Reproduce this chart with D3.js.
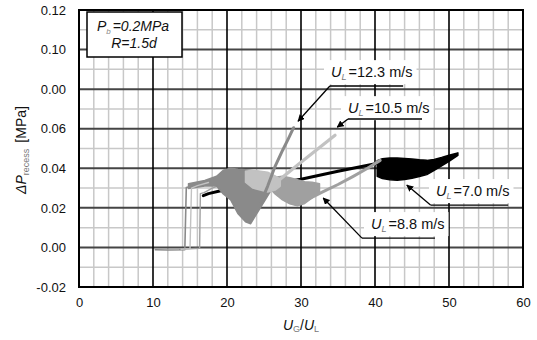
<!DOCTYPE html>
<html><head><meta charset="utf-8">
<script src="https://cdn.jsdelivr.net/npm/d3@7"></script>
<style>body{margin:0;background:#fff;} svg{display:block;font-family:"Liberation Sans",Arial,sans-serif;}</style>
</head><body><svg id="c" width="537" height="340"></svg>
<script>
// ---- tick labels (as printed in the reference) ----
const xTicks = [0, 10, 20, 30, 40, 50, 60];
const xTickLabels = ["0", "10", "20", "30", "40", "50", "60"];
const yTicks = [-0.02, 0, 0.02, 0.04, 0.06, 0.08, 0.10, 0.12];
const yTickLabels = ["-0.02", "0.00", "0.02", "0.04", "0.06", "0.00", "0.10", "0.12"];

// ---- series labels ----
const seriesNames = ["U_L=7.0 m/s", "U_L=8.8 m/s", "U_L=10.5 m/s", "U_L=12.3 m/s"];
const seriesValues = ["7.0", "8.8", "10.5", "12.3"];

// ---- U_L = 7.0 m/s (black) : trace [x, dP] and noisy envelope [x, low, high] ----
const s70Line = [[16.8,0.0262],[17.5,0.0272],[19,0.0285],[22,0.0300],[26.5,0.0322],[30,0.0345],[35,0.0385],[40.4,0.0425]];
const s70Band = [[40.3,0.0360,0.0438],[41,0.0348,0.0448],[42,0.0342,0.0452],[43,0.0340,0.0452],[44,0.0343,0.0450],[45,0.0350,0.0447],[46,0.0358,0.0443],[47,0.0368,0.0440],[48,0.0390,0.0445],[49,0.0412,0.0455],[50,0.0435,0.0466],[51.2,0.0465,0.0478]];

// ---- U_L = 8.8 m/s ----
const s88Line = [[13.6,-0.0010],[16.3,-0.0004],[16.4,0.0272],[16.9,0.0277],[18,0.0300],[19.5,0.0320]];
const s88Band = [[26.0,0.0290,0.0355],[26.5,0.0270,0.0355],[27.5,0.0240,0.0360],[28.5,0.0220,0.0352],[29.5,0.0210,0.0342],[30.5,0.0222,0.0332],[31.5,0.0250,0.0330],[32.5,0.0280,0.0322]];
const s88Rise = [[30.5,0.0235],[33,0.0282],[35,0.0318],[37,0.0358],[39,0.0400],[40.7,0.0440]];

// ---- U_L = 10.5 m/s ----
const s105Line = [[13.8,-0.0009],[15.0,-0.0006],[15.2,0.0300],[16,0.0312],[17.5,0.0328]];
const s105Band = [[22.5,0.0330,0.0385],[23.5,0.0300,0.0390],[24.5,0.0290,0.0385],[25.5,0.0280,0.0380],[26.5,0.0290,0.0362],[27.2,0.0310,0.0345]];
const s105Rise = [[26.2,0.0314],[28,0.0370],[30,0.0430],[32,0.0490],[34.6,0.0567]];

// ---- U_L = 12.3 m/s ----
const s123Line = [[10.3,-0.0012],[12,-0.0013],[14.3,-0.0012],[14.5,0.0303],[15.5,0.0312],[17,0.0322],[18.6,0.0335],[20,0.0350]];
const s123Band = [[14.8,0.0298,0.0322],[17,0.0310,0.0338],[18.6,0.0310,0.0360],[19.5,0.0270,0.0390],[20.5,0.0240,0.0400],[21.5,0.0170,0.0395],[22.5,0.0130,0.0392],[23.2,0.0120,0.0390],[24,0.0170,0.0385],[25,0.0230,0.0380],[25.8,0.0280,0.0370]];
const s123Rise = [[24.6,0.0230],[25.5,0.0310],[26.5,0.0410],[27.5,0.0490],[28.3,0.0550],[29,0.0605]];

const svg = d3.select("#c");
const W = 537, H = 340;
const L = 79, R = 523, T = 10, B = 287;
const x = d3.scaleLinear().domain([0, 60]).range([L, R]);
const y = d3.scaleLinear().domain([-0.02, 0.12]).range([B, T]);

svg.append("rect").attr("width", W).attr("height", H).attr("fill", "#fff");

// grid
const g = svg.append("g");
const minorX = d3.range(2, 60, 2).filter(v => v % 10 !== 0);
const minorY = d3.range(-0.01, 0.12, 0.02);
g.selectAll(".mx").data(minorX).enter().append("line")
  .attr("x1", d => x(d)).attr("x2", d => x(d)).attr("y1", T).attr("y2", B)
  .attr("stroke", "#c8c8c8").attr("stroke-width", 1.5);
g.selectAll(".my").data(minorY).enter().append("line")
  .attr("x1", L).attr("x2", R).attr("y1", d => y(d)).attr("y2", d => y(d))
  .attr("stroke", "#c8c8c8").attr("stroke-width", 1.5);
g.selectAll(".My").data(yTicks.slice(1, -1)).enter().append("line")
  .attr("x1", L).attr("x2", R).attr("y1", d => y(d)).attr("y2", d => y(d))
  .attr("stroke", "#454545").attr("stroke-width", 2);
g.selectAll(".Mx").data(xTicks.slice(1, -1)).enter().append("line")
  .attr("x1", d => x(d)).attr("x2", d => x(d)).attr("y1", T).attr("y2", B)
  .attr("stroke", "#000").attr("stroke-width", 1.6);

// data
const line = d3.line().x(d => x(d[0])).y(d => y(d[1]));
const area = d3.area().x(d => x(d[0])).y0(d => y(d[1])).y1(d => y(d[2]));
const D = svg.append("g").attr("stroke-linejoin", "round").attr("stroke-linecap", "round");
function band(data, col) {
  D.append("path").datum(data).attr("d", area).attr("fill", col).attr("stroke", col).attr("stroke-width", 1.5);
}
function trace(data, col, w) {
  D.append("path").datum(data).attr("d", line).attr("fill", "none").attr("stroke", col).attr("stroke-width", w);
}
const c70 = "#000", c88 = "#a0a0a0", c105 = "#c2c2c2", c123 = "#8a8a8a";
// 7.0
trace(s70Line, c70, 3);
band(s70Band, c70);
// 8.8
trace(s88Line, c88, 1.4);
band(s88Band, c88);
trace(s88Rise, c88, 3);
// 12.3 low/noisy part
trace(s123Line, c123, 1.6);
band(s123Band, c123);
// 10.5
trace(s105Line, c105, 1.4);
band(s105Band, c105);
trace(s105Rise, c105, 3.2);
// 12.3 rise
trace(s123Rise, c123, 3);

// border
svg.append("rect").attr("x", L).attr("y", T).attr("width", R - L).attr("height", B - T)
  .attr("fill", "none").attr("stroke", "#000").attr("stroke-width", 2);

// axes (labels only)
const ax = svg.append("g").attr("transform", `translate(0,${B})`)
  .call(d3.axisBottom(x).tickValues(xTicks).tickFormat((d, i) => xTickLabels[i]).tickSize(0).tickPadding(11));
const ay = svg.append("g").attr("transform", `translate(${L},0)`)
  .call(d3.axisLeft(y).tickValues(yTicks).tickFormat((d, i) => yTickLabels[i]).tickSize(0).tickPadding(13));
[ax, ay].forEach(a => {
  a.select(".domain").remove();
  a.selectAll("text").attr("font-size", 13).attr("fill", "#111")
    .attr("font-family", '"Liberation Sans",Arial,sans-serif');
});

// axis titles
const xt = svg.append("text").attr("x", 301).attr("y", 330).attr("text-anchor", "middle")
  .attr("font-size", 14).attr("fill", "#111");
xt.append("tspan").attr("font-style", "italic").text("U");
xt.append("tspan").attr("font-size", 9).attr("dy", 2).attr("fill", "#777").text("G");
xt.append("tspan").attr("dy", -2).text("/");
xt.append("tspan").attr("font-style", "italic").text("U");
xt.append("tspan").attr("font-size", 9).attr("dy", 2).attr("fill", "#777").text("L");

const yt = svg.append("text").attr("transform", "translate(26,150) rotate(-90)")
  .attr("text-anchor", "middle").attr("font-size", 14).attr("fill", "#111");
yt.append("tspan").attr("font-style", "italic").text("\u0394P");
yt.append("tspan").attr("font-size", 9).attr("dy", 3).attr("fill", "#777").text("recess");
yt.append("tspan").attr("dy", -3).attr("dx", 6).text("[MPa]");

// legend box
svg.append("rect").attr("x", 87).attr("y", 12).attr("width", 95).attr("height", 45)
  .attr("fill", "#fff").attr("stroke", "#000").attr("stroke-width", 1.5);
const lt1 = svg.append("text").attr("x", 133).attr("y", 31).attr("text-anchor", "middle")
  .attr("font-size", 14).attr("font-style", "italic").attr("fill", "#111");
lt1.append("tspan").text("P");
lt1.append("tspan").attr("font-size", 8).attr("dy", 3).attr("fill", "#888").text("b");
lt1.append("tspan").attr("dy", -3).attr("dx", 2).text("=0.2MPa");
svg.append("text").attr("x", 134).attr("y", 48).attr("text-anchor", "middle")
  .attr("font-size", 14).attr("font-style", "italic").attr("fill", "#111").text("R=1.5d");

// annotations
svg.append("defs").append("marker").attr("id", "ah").attr("viewBox", "0 0 10 10")
  .attr("refX", 9).attr("refY", 5).attr("markerWidth", 7).attr("markerHeight", 7)
  .attr("markerUnits", "userSpaceOnUse").attr("orient", "auto")
  .append("path").attr("d", "M0,0 L10,5 L0,10 z").attr("fill", "#000");

const annos = [
  {v: seriesValues[3], tx: 34.05, ty: 0.0886, u0: 33.9, u1: 43.8, uy: 0.0816, ax: 29.6, ay: 0.0638},
  {v: seriesValues[2], tx: 36.35, ty: 0.0704, u0: 36.35, u1: 46.35, uy: 0.0649, ax: 34.9, ay: 0.0608},
  {v: seriesValues[0], tx: 48.24, ty: 0.0285, u0: 47.5, u1: 58.0, uy: 0.0214, ax: 44.3, ay: 0.0315},
  {v: seriesValues[1], tx: 39.46, ty: 0.0118, u0: 38.24, u1: 48.1, uy: 0.0047, ax: 33.0, ay: 0.0250}
];
annos.forEach(a => {
  const grp = svg.append("g");
  const bg = grp.append("rect").attr("fill", "#fff");
  const t = grp.append("text").attr("x", x(a.tx)).attr("y", y(a.ty) + 5)
    .attr("font-size", 14.5).attr("fill", "#111");
  t.append("tspan").attr("font-style", "italic").text("U");
  t.append("tspan").attr("font-style", "italic").attr("font-size", 9).attr("dy", 3).attr("fill", "#777").text("L");
  t.append("tspan").attr("dy", -3).attr("dx", 2).text("=" + a.v + " m/s");
  const bb = t.node().getBBox();
  bg.attr("x", bb.x - 7).attr("y", y(a.ty) - 12).attr("width", bb.width + 11).attr("height", 24);
  grp.append("line").attr("x1", x(a.u0)).attr("x2", x(a.u1)).attr("y1", y(a.uy)).attr("y2", y(a.uy))
    .attr("stroke", "#000").attr("stroke-width", 1.3);
  grp.append("line").attr("x1", x(a.u0)).attr("y1", y(a.uy)).attr("x2", x(a.ax)).attr("y2", y(a.ay))
    .attr("stroke", "#000").attr("stroke-width", 1.3).attr("marker-end", "url(#ah)");
});
</script></body></html>
